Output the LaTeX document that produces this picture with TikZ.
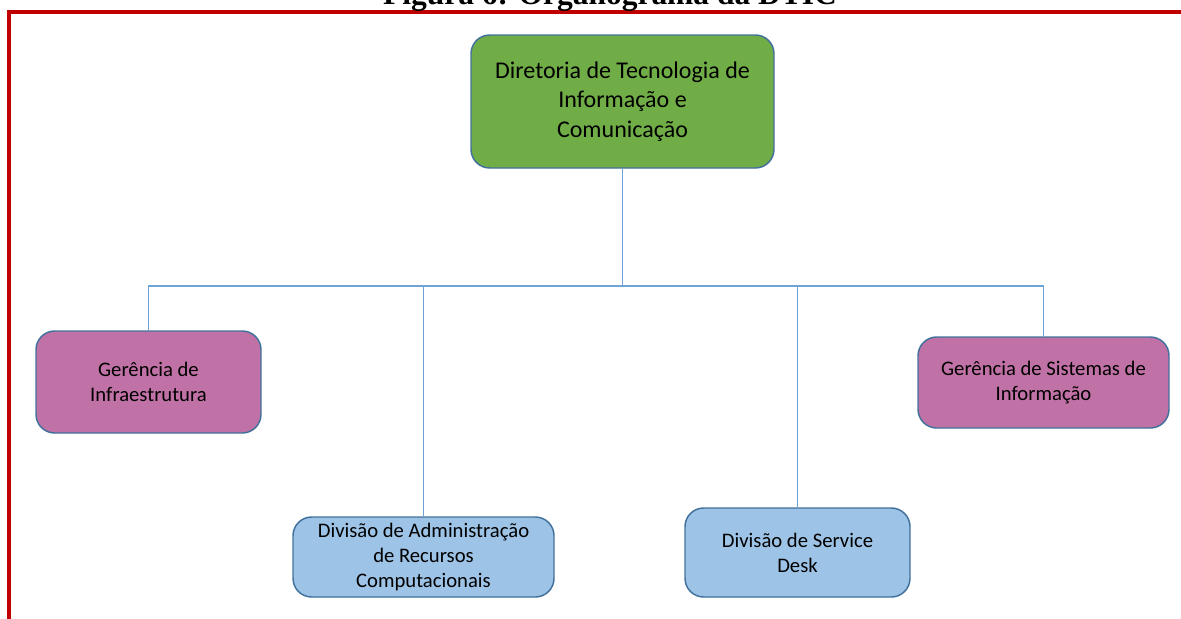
\documentclass[tikz,border=0pt]{standalone}
\usepackage{fontspec}
\setmainfont{Carlito}
\newfontfamily\titlefont{Liberation Serif}
\definecolor{frameRed}{HTML}{C00000}
\definecolor{boxBorder}{HTML}{41719C}
\definecolor{greenFill}{HTML}{70AD47}
\definecolor{pinkFill}{HTML}{C071A5}
\definecolor{blueFill}{HTML}{9DC3E6}
\definecolor{connBlue}{HTML}{6FA3D8}
\begin{document}
\begin{tikzpicture}[x=0.75pt,y=-0.75pt,
  orgbox/.style={draw=boxBorder,line width=1.1pt,rounded corners=14pt,
    inner sep=0pt,align=center,text=black},
  topbox/.style={orgbox,fill=greenFill,font=\fontsize{18}{22}\selectfont},
  gerbox/.style={orgbox,fill=pinkFill,font=\fontsize{15.5}{19.2}\selectfont},
  divbox/.style={orgbox,fill=blueFill,font=\fontsize{15.5}{18.6}\selectfont},
  conn/.style={draw=connBlue,line width=0.8pt}]
\useasboundingbox (0,0) rectangle (1181,618);
% frame
\draw[frameRed,line width=3pt] (9,640) -- (9,12) -- (1200,12);
% title (cut off at top)
\node[anchor=base,inner sep=0pt,font=\titlefont\bfseries\fontsize{23.6}{28}\selectfont] (title) at (610,4) {Figura 6: Organograma da DTIC};
% boxes
\node[topbox,minimum width=227.25pt,minimum height=99.75pt] (top) at (622.5,101.5)
  {Diretoria de Tecnologia de\\Informação e\\Comunicação};
\node[gerbox,minimum width=168.75pt,minimum height=76.5pt] (infra) at (148.5,382)
  {Gerência de\\Infraestrutura};
\node[gerbox,minimum width=188.25pt,minimum height=68.25pt] (sist) at (1043.5,382.5)
  {Gerência de Sistemas de\\Informação};
\node[divbox,minimum width=195.75pt,minimum height=60pt] (adm) at (423.5,557)
  {Divisão de Administração\\de Recursos\\Computacionais};
\node[divbox,minimum width=168.75pt,minimum height=66.75pt] (desk) at (797.5,552.5)
  {Divisão de Service\\Desk};
% connectors
\coordinate (hub) at (622.5,286);
\draw[conn] (top.south) -- (hub);
\draw[conn] (infra.north) |- (hub);
\draw[conn] (sist.north) |- (hub);
\draw[conn] (adm.north) -- (adm.north |- hub);
\draw[conn] (desk.north) -- (desk.north |- hub);
\end{tikzpicture}
\end{document}
